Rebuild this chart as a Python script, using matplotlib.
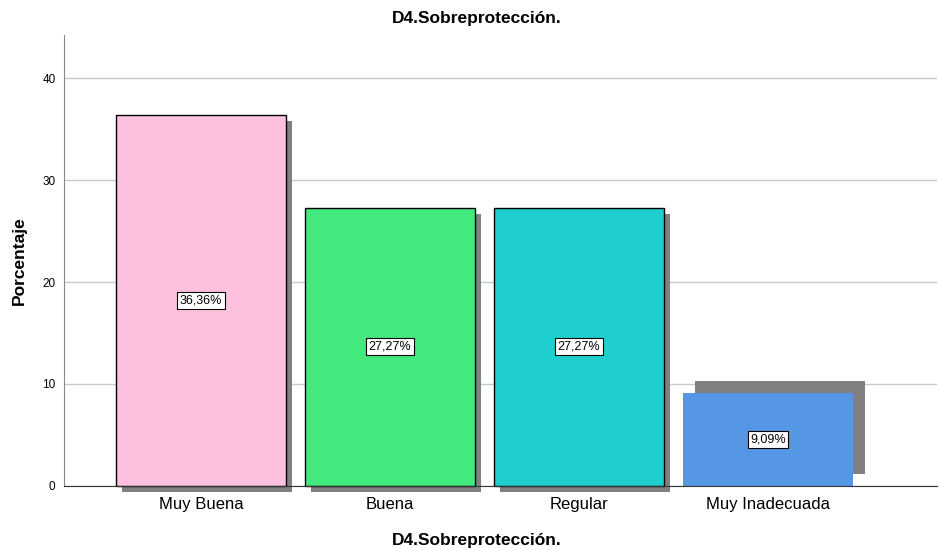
import numpy as np
import matplotlib
matplotlib.use("Agg")
import matplotlib.pyplot as plt
import matplotlib.patheffects as pe

plt.rcParams['font.family'] = ['Liberation Sans', 'DejaVu Sans']

categories = ['Muy Buena', 'Buena', 'Regular', 'Muy Inadecuada']
values = [36.36, 27.27, 27.27, 9.09]
labels = ['36,36%', '27,27%', '27,27%', '9,09%']
colors = ['#fdc1df', '#42e97d', '#1ecfce', '#5596e5']

fig = plt.figure(figsize=(9.39, 5.5), dpi=100)
ax = fig.add_axes([0.068, 0.1164, 0.930, 0.8196])

x = np.arange(len(categories))
bars = ax.bar(x, values, width=0.9, color=colors, edgecolor='black', linewidth=1, zorder=3, clip_on=False)
for i, b in enumerate(bars):
    if i == len(bars) - 1:
        b.set_edgecolor('none')
        b.set_path_effects([pe.SimplePatchShadow(offset=(8.6, 8.6), shadow_rgbFace='#808080', alpha=1),
                            pe.Normal()])
    else:
        b.set_path_effects([pe.SimplePatchShadow(offset=(4.3, -4.3), shadow_rgbFace='#808080', alpha=1),
                            pe.Normal()])
    ax.text(x[i], values[i] / 2, labels[i], ha='center', va='center', fontsize=9, zorder=5,
            bbox=dict(boxstyle='square,pad=0.2', fc='white', ec='black', lw=0.8))

ax.set_xlim(-0.725, 3.894)
ax.set_ylim(0, 44.2)
ax.set_yticks([0, 10, 20, 30, 40])
ax.set_xticks(x)
ax.set_xticklabels(categories, fontsize=12)
ax.tick_params(axis='y', labelsize=8.5, length=0, pad=6)
ax.tick_params(axis='x', length=0, pad=8)
ax.grid(axis='y', color='#c8c8c8', linewidth=1, zorder=0)

for s in ['top', 'right']:
    ax.spines[s].set_visible(False)
ax.spines['left'].set_color('#888888')
ax.spines['bottom'].set_color('#333333')
ax.spines['bottom'].set_zorder(4)

fig.text(0.508, 0.967, 'D4.Sobreprotección.', ha='center', va='center', fontsize=12.5, fontweight='bold')
fig.text(0.508, 0.018, 'D4.Sobreprotección.', ha='center', va='center', fontsize=12.5, fontweight='bold')
ax.set_ylabel('Porcentaje', fontsize=12.5, fontweight='bold', labelpad=11)

fig.savefig('out.png', dpi=100)
